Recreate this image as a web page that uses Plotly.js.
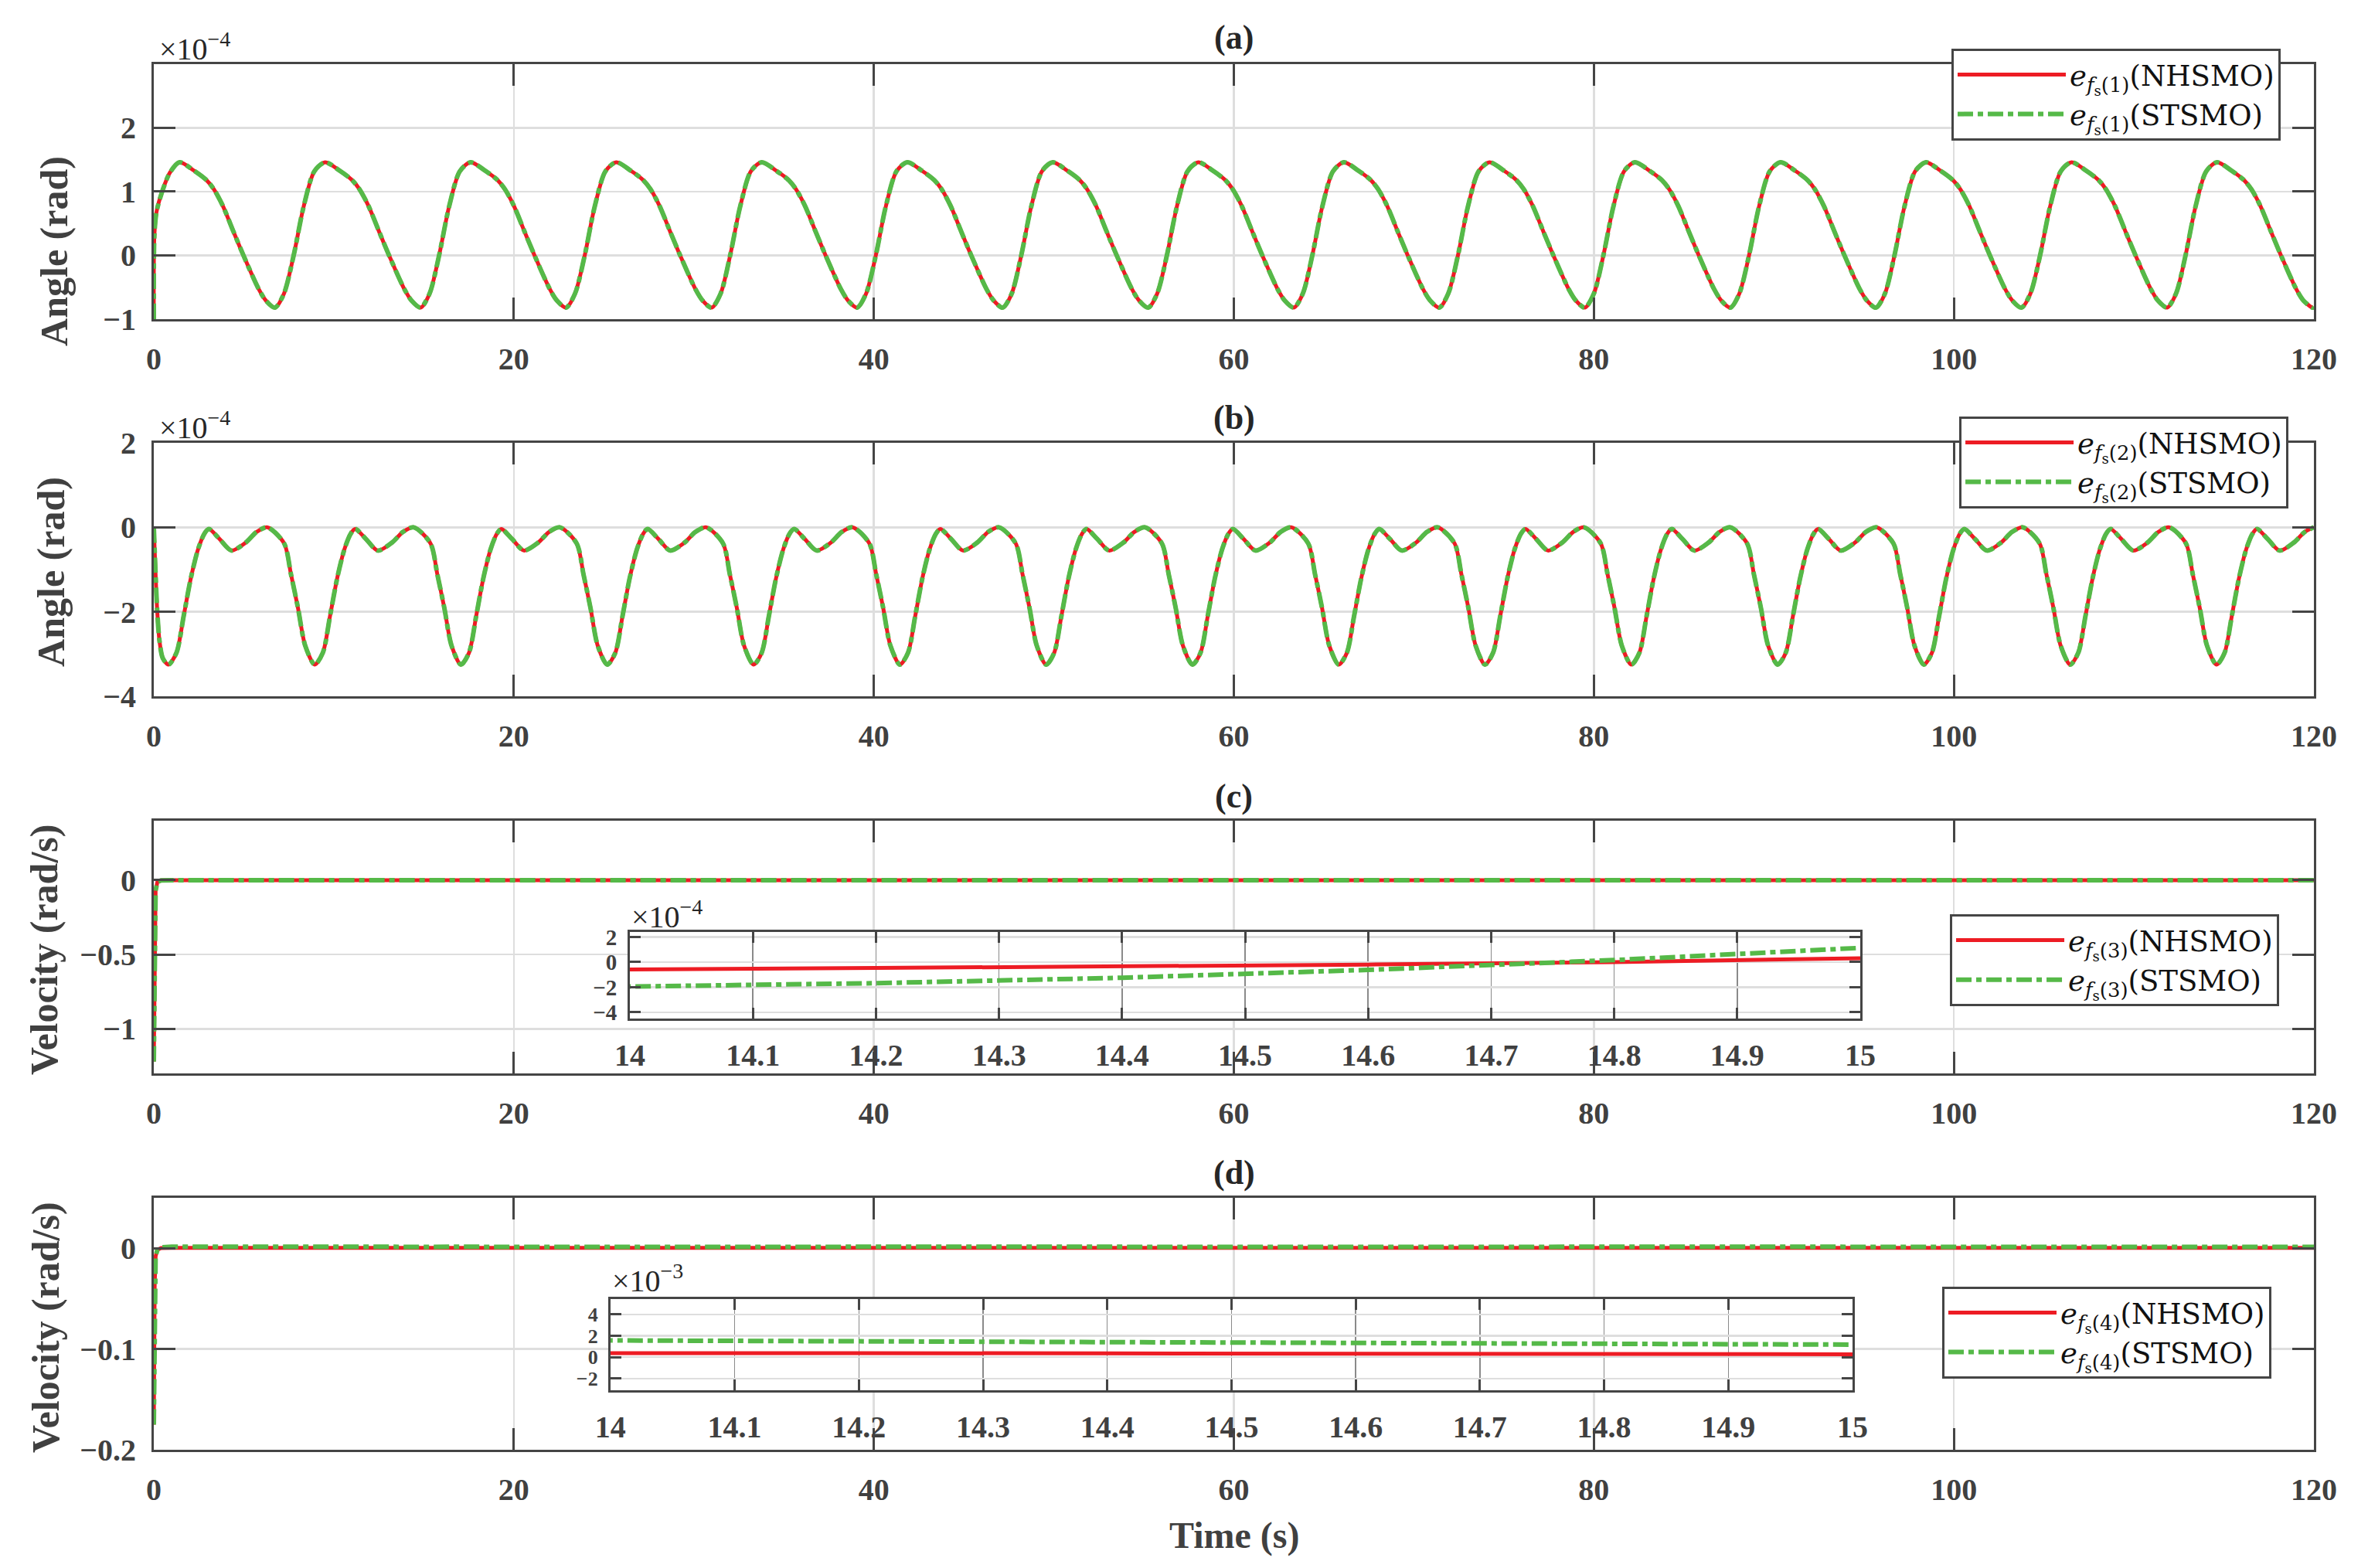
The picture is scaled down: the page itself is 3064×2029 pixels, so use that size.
<!DOCTYPE html>
<html>
<head>
<meta charset="utf-8">
<script src="https://cdn.plot.ly/plotly-3.0.1.min.js"></script>
<style>html,body{margin:0;padding:0;background:#fff;}#chart{width:3064px;height:2029px;}</style>
</head>
<body>
<div id="chart"></div>
<script>
// ---------------- DATA ----------------
// Panel (a): e_fs(1), angle, in units of 1e-4 rad
const timeA = [0, 0.03, 0.15, 0.5, 0.9,
 1.43, 2.23, 2.93, 3.33, 3.83, 4.43, 4.98, 5.83, 6.23, 6.73, 7.23,
 7.77, 8.32, 8.92, 9.52, 10.32, 11.02, 11.42, 11.92, 12.52, 13.07, 13.92, 14.32, 14.82, 15.32,
 15.85, 16.40, 17.00, 17.60, 18.40, 19.10, 19.50, 20.00, 20.60, 21.15, 22.00, 22.40, 22.90, 23.40,
 23.94, 24.49, 25.09, 25.69, 26.49, 27.19, 27.59, 28.09, 28.69, 29.24, 30.09, 30.49, 30.99, 31.49,
 32.02, 32.57, 33.17, 33.77, 34.57, 35.27, 35.67, 36.17, 36.77, 37.32, 38.17, 38.57, 39.07, 39.57,
 40.11, 40.66, 41.26, 41.86, 42.66, 43.36, 43.76, 44.26, 44.86, 45.41, 46.26, 46.66, 47.16, 47.66,
 48.19, 48.74, 49.34, 49.94, 50.74, 51.44, 51.84, 52.34, 52.94, 53.49, 54.34, 54.74, 55.24, 55.74,
 56.28, 56.83, 57.43, 58.03, 58.83, 59.53, 59.93, 60.43, 61.03, 61.58, 62.43, 62.83, 63.33, 63.83,
 64.36, 64.91, 65.51, 66.11, 66.91, 67.61, 68.01, 68.51, 69.11, 69.66, 70.51, 70.91, 71.41, 71.91,
 72.45, 73.00, 73.60, 74.20, 75.00, 75.70, 76.10, 76.60, 77.20, 77.75, 78.60, 79.00, 79.50, 80.00,
 80.53, 81.08, 81.68, 82.28, 83.08, 83.78, 84.18, 84.68, 85.28, 85.83, 86.68, 87.08, 87.58, 88.08,
 88.62, 89.17, 89.77, 90.37, 91.17, 91.87, 92.27, 92.77, 93.37, 93.92, 94.77, 95.17, 95.67, 96.17,
 96.70, 97.25, 97.85, 98.45, 99.25, 99.95, 100.35, 100.85, 101.45, 102.00, 102.85, 103.25, 103.75, 104.25,
 104.79, 105.34, 105.94, 106.54, 107.34, 108.04, 108.44, 108.94, 109.54, 110.09, 110.94, 111.34, 111.84, 112.34,
 112.87, 113.42, 114.02, 114.62, 115.42, 116.12, 116.52, 117.02, 117.62, 118.17, 119.02, 119.42, 119.92, 120.0];
const angle1NHSMO = [-1.0, 0.3, 0.68, 1.03, 1.3,
 1.46, 1.33, 1.18, 1.04, 0.78, 0.37, 0, -0.53, -0.71, -0.82, -0.6,
 0, 0.76, 1.32, 1.46, 1.33, 1.18, 1.04, 0.78, 0.37, 0, -0.53, -0.71, -0.82, -0.6,
 0, 0.76, 1.32, 1.46, 1.33, 1.18, 1.04, 0.78, 0.37, 0, -0.53, -0.71, -0.82, -0.6,
 0, 0.76, 1.32, 1.46, 1.33, 1.18, 1.04, 0.78, 0.37, 0, -0.53, -0.71, -0.82, -0.6,
 0, 0.76, 1.32, 1.46, 1.33, 1.18, 1.04, 0.78, 0.37, 0, -0.53, -0.71, -0.82, -0.6,
 0, 0.76, 1.32, 1.46, 1.33, 1.18, 1.04, 0.78, 0.37, 0, -0.53, -0.71, -0.82, -0.6,
 0, 0.76, 1.32, 1.46, 1.33, 1.18, 1.04, 0.78, 0.37, 0, -0.53, -0.71, -0.82, -0.6,
 0, 0.76, 1.32, 1.46, 1.33, 1.18, 1.04, 0.78, 0.37, 0, -0.53, -0.71, -0.82, -0.6,
 0, 0.76, 1.32, 1.46, 1.33, 1.18, 1.04, 0.78, 0.37, 0, -0.53, -0.71, -0.82, -0.6,
 0, 0.76, 1.32, 1.46, 1.33, 1.18, 1.04, 0.78, 0.37, 0, -0.53, -0.71, -0.82, -0.6,
 0, 0.76, 1.32, 1.46, 1.33, 1.18, 1.04, 0.78, 0.37, 0, -0.53, -0.71, -0.82, -0.6,
 0, 0.76, 1.32, 1.46, 1.33, 1.18, 1.04, 0.78, 0.37, 0, -0.53, -0.71, -0.82, -0.6,
 0, 0.76, 1.32, 1.46, 1.33, 1.18, 1.04, 0.78, 0.37, 0, -0.53, -0.71, -0.82, -0.6,
 0, 0.76, 1.32, 1.46, 1.33, 1.18, 1.04, 0.78, 0.37, 0, -0.53, -0.71, -0.82, -0.6,
 0, 0.76, 1.32, 1.46, 1.33, 1.18, 1.04, 0.78, 0.37, 0, -0.53, -0.71, -0.82, -0.81];
const angle1STSMO = [-1.0, 0.3, 0.68, 1.03, 1.3,
 1.46, 1.33, 1.18, 1.04, 0.78, 0.37, 0, -0.53, -0.71, -0.82, -0.6,
 0, 0.76, 1.32, 1.46, 1.33, 1.18, 1.04, 0.78, 0.37, 0, -0.53, -0.71, -0.82, -0.6,
 0, 0.76, 1.32, 1.46, 1.33, 1.18, 1.04, 0.78, 0.37, 0, -0.53, -0.71, -0.82, -0.6,
 0, 0.76, 1.32, 1.46, 1.33, 1.18, 1.04, 0.78, 0.37, 0, -0.53, -0.71, -0.82, -0.6,
 0, 0.76, 1.32, 1.46, 1.33, 1.18, 1.04, 0.78, 0.37, 0, -0.53, -0.71, -0.82, -0.6,
 0, 0.76, 1.32, 1.46, 1.33, 1.18, 1.04, 0.78, 0.37, 0, -0.53, -0.71, -0.82, -0.6,
 0, 0.76, 1.32, 1.46, 1.33, 1.18, 1.04, 0.78, 0.37, 0, -0.53, -0.71, -0.82, -0.6,
 0, 0.76, 1.32, 1.46, 1.33, 1.18, 1.04, 0.78, 0.37, 0, -0.53, -0.71, -0.82, -0.6,
 0, 0.76, 1.32, 1.46, 1.33, 1.18, 1.04, 0.78, 0.37, 0, -0.53, -0.71, -0.82, -0.6,
 0, 0.76, 1.32, 1.46, 1.33, 1.18, 1.04, 0.78, 0.37, 0, -0.53, -0.71, -0.82, -0.6,
 0, 0.76, 1.32, 1.46, 1.33, 1.18, 1.04, 0.78, 0.37, 0, -0.53, -0.71, -0.82, -0.6,
 0, 0.76, 1.32, 1.46, 1.33, 1.18, 1.04, 0.78, 0.37, 0, -0.53, -0.71, -0.82, -0.6,
 0, 0.76, 1.32, 1.46, 1.33, 1.18, 1.04, 0.78, 0.37, 0, -0.53, -0.71, -0.82, -0.6,
 0, 0.76, 1.32, 1.46, 1.33, 1.18, 1.04, 0.78, 0.37, 0, -0.53, -0.71, -0.82, -0.6,
 0, 0.76, 1.32, 1.46, 1.33, 1.18, 1.04, 0.78, 0.37, 0, -0.53, -0.71, -0.82, -0.81];

// Panel (b): e_fs(2), angle, in units of 1e-4 rad
const timeB = [0, 0.08, 0.18, 0.32, 0.5,
 0.81, 1.26, 1.66, 2.06, 2.46, 2.81, 3.06, 3.66, 4.31, 5.11, 5.71, 6.31, 7.24, 7.62, 8.01, 8.41,
 8.94, 9.39, 9.79, 10.19, 10.59, 10.94, 11.19, 11.79, 12.44, 13.24, 13.84, 14.44, 15.37, 15.75, 16.14, 16.54,
 17.06, 17.51, 17.91, 18.31, 18.71, 19.06, 19.31, 19.91, 20.56, 21.36, 21.96, 22.56, 23.49, 23.87, 24.26, 24.66,
 25.19, 25.64, 26.04, 26.44, 26.84, 27.19, 27.44, 28.04, 28.69, 29.49, 30.09, 30.69, 31.62, 32.00, 32.39, 32.79,
 33.32, 33.77, 34.17, 34.57, 34.97, 35.32, 35.57, 36.17, 36.82, 37.62, 38.22, 38.82, 39.75, 40.13, 40.52, 40.92,
 41.45, 41.90, 42.30, 42.70, 43.10, 43.45, 43.70, 44.30, 44.95, 45.75, 46.35, 46.95, 47.88, 48.26, 48.65, 49.05,
 49.57, 50.02, 50.42, 50.82, 51.22, 51.57, 51.82, 52.42, 53.07, 53.87, 54.47, 55.07, 56.00, 56.38, 56.77, 57.17,
 57.70, 58.15, 58.55, 58.95, 59.35, 59.70, 59.95, 60.55, 61.20, 62.00, 62.60, 63.20, 64.13, 64.51, 64.90, 65.30,
 65.83, 66.28, 66.68, 67.08, 67.48, 67.83, 68.08, 68.68, 69.33, 70.13, 70.73, 71.33, 72.26, 72.64, 73.03, 73.43,
 73.95, 74.40, 74.80, 75.20, 75.60, 75.95, 76.20, 76.80, 77.45, 78.25, 78.85, 79.45, 80.38, 80.76, 81.15, 81.55,
 82.08, 82.53, 82.93, 83.33, 83.73, 84.08, 84.33, 84.93, 85.58, 86.38, 86.98, 87.58, 88.51, 88.89, 89.28, 89.68,
 90.21, 90.66, 91.06, 91.46, 91.86, 92.21, 92.46, 93.06, 93.71, 94.51, 95.11, 95.71, 96.64, 97.02, 97.41, 97.81,
 98.33, 98.78, 99.18, 99.58, 99.98, 100.33, 100.58, 101.18, 101.83, 102.63, 103.23, 103.83, 104.76, 105.14, 105.53, 105.93,
 106.46, 106.91, 107.31, 107.71, 108.11, 108.46, 108.71, 109.31, 109.96, 110.76, 111.36, 111.96, 112.89, 113.27, 113.66, 114.06,
 114.59, 115.04, 115.44, 115.84, 116.24, 116.59, 116.84, 117.44, 118.09, 118.89, 119.49, 120.0];
const angle2NHSMO = [0, -0.9, -1.9, -2.7, -3.1,
 -3.25, -2.97, -2.1, -1.2, -0.52, -0.15, -0.04, -0.28, -0.55, -0.36, -0.11, 0.0, -0.38, -1.11, -1.91, -2.8,
 -3.25, -2.97, -2.1, -1.2, -0.52, -0.15, -0.04, -0.28, -0.55, -0.36, -0.11, 0.0, -0.38, -1.11, -1.91, -2.8,
 -3.25, -2.97, -2.1, -1.2, -0.52, -0.15, -0.04, -0.28, -0.55, -0.36, -0.11, 0.0, -0.38, -1.11, -1.91, -2.8,
 -3.25, -2.97, -2.1, -1.2, -0.52, -0.15, -0.04, -0.28, -0.55, -0.36, -0.11, 0.0, -0.38, -1.11, -1.91, -2.8,
 -3.25, -2.97, -2.1, -1.2, -0.52, -0.15, -0.04, -0.28, -0.55, -0.36, -0.11, 0.0, -0.38, -1.11, -1.91, -2.8,
 -3.25, -2.97, -2.1, -1.2, -0.52, -0.15, -0.04, -0.28, -0.55, -0.36, -0.11, 0.0, -0.38, -1.11, -1.91, -2.8,
 -3.25, -2.97, -2.1, -1.2, -0.52, -0.15, -0.04, -0.28, -0.55, -0.36, -0.11, 0.0, -0.38, -1.11, -1.91, -2.8,
 -3.25, -2.97, -2.1, -1.2, -0.52, -0.15, -0.04, -0.28, -0.55, -0.36, -0.11, 0.0, -0.38, -1.11, -1.91, -2.8,
 -3.25, -2.97, -2.1, -1.2, -0.52, -0.15, -0.04, -0.28, -0.55, -0.36, -0.11, 0.0, -0.38, -1.11, -1.91, -2.8,
 -3.25, -2.97, -2.1, -1.2, -0.52, -0.15, -0.04, -0.28, -0.55, -0.36, -0.11, 0.0, -0.38, -1.11, -1.91, -2.8,
 -3.25, -2.97, -2.1, -1.2, -0.52, -0.15, -0.04, -0.28, -0.55, -0.36, -0.11, 0.0, -0.38, -1.11, -1.91, -2.8,
 -3.25, -2.97, -2.1, -1.2, -0.52, -0.15, -0.04, -0.28, -0.55, -0.36, -0.11, 0.0, -0.38, -1.11, -1.91, -2.8,
 -3.25, -2.97, -2.1, -1.2, -0.52, -0.15, -0.04, -0.28, -0.55, -0.36, -0.11, 0.0, -0.38, -1.11, -1.91, -2.8,
 -3.25, -2.97, -2.1, -1.2, -0.52, -0.15, -0.04, -0.28, -0.55, -0.36, -0.11, 0.0, -0.38, -1.11, -1.91, -2.8,
 -3.25, -2.97, -2.1, -1.2, -0.52, -0.15, -0.04, -0.28, -0.55, -0.36, -0.11, 0.0];
const angle2STSMO = [0, -0.9, -1.9, -2.7, -3.1,
 -3.25, -2.97, -2.1, -1.2, -0.52, -0.15, -0.04, -0.28, -0.55, -0.36, -0.11, 0.0, -0.38, -1.11, -1.91, -2.8,
 -3.25, -2.97, -2.1, -1.2, -0.52, -0.15, -0.04, -0.28, -0.55, -0.36, -0.11, 0.0, -0.38, -1.11, -1.91, -2.8,
 -3.25, -2.97, -2.1, -1.2, -0.52, -0.15, -0.04, -0.28, -0.55, -0.36, -0.11, 0.0, -0.38, -1.11, -1.91, -2.8,
 -3.25, -2.97, -2.1, -1.2, -0.52, -0.15, -0.04, -0.28, -0.55, -0.36, -0.11, 0.0, -0.38, -1.11, -1.91, -2.8,
 -3.25, -2.97, -2.1, -1.2, -0.52, -0.15, -0.04, -0.28, -0.55, -0.36, -0.11, 0.0, -0.38, -1.11, -1.91, -2.8,
 -3.25, -2.97, -2.1, -1.2, -0.52, -0.15, -0.04, -0.28, -0.55, -0.36, -0.11, 0.0, -0.38, -1.11, -1.91, -2.8,
 -3.25, -2.97, -2.1, -1.2, -0.52, -0.15, -0.04, -0.28, -0.55, -0.36, -0.11, 0.0, -0.38, -1.11, -1.91, -2.8,
 -3.25, -2.97, -2.1, -1.2, -0.52, -0.15, -0.04, -0.28, -0.55, -0.36, -0.11, 0.0, -0.38, -1.11, -1.91, -2.8,
 -3.25, -2.97, -2.1, -1.2, -0.52, -0.15, -0.04, -0.28, -0.55, -0.36, -0.11, 0.0, -0.38, -1.11, -1.91, -2.8,
 -3.25, -2.97, -2.1, -1.2, -0.52, -0.15, -0.04, -0.28, -0.55, -0.36, -0.11, 0.0, -0.38, -1.11, -1.91, -2.8,
 -3.25, -2.97, -2.1, -1.2, -0.52, -0.15, -0.04, -0.28, -0.55, -0.36, -0.11, 0.0, -0.38, -1.11, -1.91, -2.8,
 -3.25, -2.97, -2.1, -1.2, -0.52, -0.15, -0.04, -0.28, -0.55, -0.36, -0.11, 0.0, -0.38, -1.11, -1.91, -2.8,
 -3.25, -2.97, -2.1, -1.2, -0.52, -0.15, -0.04, -0.28, -0.55, -0.36, -0.11, 0.0, -0.38, -1.11, -1.91, -2.8,
 -3.25, -2.97, -2.1, -1.2, -0.52, -0.15, -0.04, -0.28, -0.55, -0.36, -0.11, 0.0, -0.38, -1.11, -1.91, -2.8,
 -3.25, -2.97, -2.1, -1.2, -0.52, -0.15, -0.04, -0.28, -0.55, -0.36, -0.11, 0.0];

// Panel (c): e_fs(3), velocity, rad/s
const timeC = [0, 0.02, 0.05, 0.1, 0.2, 0.4, 1, 4, 8, 12, 14, 14.2, 14.4, 14.6, 14.8, 15, 17, 20, 30, 40, 50, 60, 70, 80, 90, 100, 110, 120];
const vel3NHSMO = [-1.22, -0.72, -0.28, -0.07, -0.012, -0.002, -0.0001, 0.00008, -0.00012, 0.0001,
 -0.000059, -0.000047, -0.000036, -0.00002, 0.0, 0.000031,
 0.00009, -0.0001, 0.00011, -0.00009, 0.0001, -0.0001, 0.00009, -0.0001, 0.0001, -0.00009, 0.0001, -0.0001];
const vel3STSMO = [-1.22, -0.72, -0.28, -0.07, -0.012, -0.002, 0.0002, -0.0002, 0.00025, -0.00022,
 -0.000195, -0.000168, -0.000125, -0.000062, 0.000016, 0.000113,
 0.0002, -0.0002, 0.00022, -0.0002, 0.0002, -0.00022, 0.0002, -0.0002, 0.00022, -0.0002, 0.0002, -0.0002];

// Panel (d): e_fs(4), velocity, rad/s
const timeD = [0, 0.02, 0.05, 0.1, 0.2, 0.4, 1, 4, 8, 12, 14, 14.2, 14.4, 14.6, 14.8, 15, 17, 20, 30, 40, 50, 60, 70, 80, 90, 100, 110, 120];
const vel4NHSMO = [-0.175, -0.1, -0.035, -0.008, -0.0015, 0.0001, 0.0004, 0.0004, 0.00042, 0.0004,
 0.00041, 0.00038, 0.00036, 0.00033, 0.0003, 0.00027,
 0.0003, 0.0003, 0.00031, 0.0003, 0.0003, 0.00031, 0.0003, 0.0003, 0.00031, 0.0003, 0.0003, 0.0003];
const vel4STSMO = [-0.175, -0.1, -0.035, -0.008, -0.0015, 0.0008, 0.0016, 0.0018, 0.0014, 0.0017,
 0.00157, 0.00149, 0.00141, 0.00133, 0.00125, 0.00118,
 0.0015, 0.0013, 0.0016, 0.0012, 0.0015, 0.0013, 0.0016, 0.0012, 0.0015, 0.0013, 0.0016, 0.0013];

// Tick labels
const mainTimeTicks = [0, 20, 40, 60, 80, 100, 120];
const insetTimeTicks = [14, 14.1, 14.2, 14.3, 14.4, 14.5, 14.6, 14.7, 14.8, 14.9, 15];
const insetTimeLabels = ['14', '14.1', '14.2', '14.3', '14.4', '14.5', '14.6', '14.7', '14.8', '14.9', '15'];
const panelTitles = ['(a)', '(b)', '(c)', '(d)'];
const seriesNames = ['NHSMO', 'STSMO'];

// ---------------- STYLE ----------------
const FONT = 'Liberation Serif, Times New Roman, serif';
const LEGFONT = 'DejaVu Serif, Liberation Serif, serif';
const AX = '#454545';
const RED = '#ED1C24';
const GREEN = '#55B948';
const DASH = '20px,6px,7px,6px';

function legendName(idx, name) {
  return '<i>e</i><sub><i>f</i><sub>s</sub>(' + idx + ')</sub>(' + name + ')';
}

function mkTraces(x, yR, yG, xa, ya, idx, legendId, showleg, shape) {
  return [
    {x: x, y: yR, xaxis: xa, yaxis: ya, type: 'scatter', mode: 'lines',
     name: legendName(idx, seriesNames[0]), legend: legendId, showlegend: showleg,
     line: {color: RED, width: 5, shape: shape, smoothing: 0.8}},
    {x: x, y: yG, xaxis: xa, yaxis: ya, type: 'scatter', mode: 'lines',
     name: legendName(idx, seriesNames[1]), legend: legendId, showlegend: showleg,
     line: {color: GREEN, width: 6, dash: DASH, shape: shape, smoothing: 0.8}}
  ];
}

const traces = [].concat(
  mkTraces(timeA, angle1NHSMO, angle1STSMO, 'x', 'y', 1, 'legend', true, 'spline'),
  mkTraces(timeB, angle2NHSMO, angle2STSMO, 'x2', 'y2', 2, 'legend2', true, 'spline'),
  mkTraces(timeC, vel3NHSMO, vel3STSMO, 'x3', 'y3', 3, 'legend3', true, 'linear'),
  mkTraces(timeD, vel4NHSMO, vel4STSMO, 'x4', 'y4', 4, 'legend4', true, 'linear'),
  mkTraces(timeC, vel3NHSMO, vel3STSMO, 'x5', 'y5', 3, 'legend3', false, 'linear'),
  mkTraces(timeD, vel4NHSMO, vel4STSMO, 'x6', 'y6', 4, 'legend4', false, 'linear')
);

const tickFont = {family: FONT, size: 40, color: '#404040', weight: 'bold'};
function mainX(anchor) {
  return {anchor: anchor, domain: [0, 1], range: [0, 120], tickvals: mainTimeTicks,
    ticktext: mainTimeTicks.map(String),
    showline: true, linecolor: AX, linewidth: 3, mirror: 'ticks',
    ticks: 'inside', ticklen: 28, tickwidth: 3, tickcolor: AX,
    showgrid: true, gridcolor: '#dedede', gridwidth: 2.5, zeroline: false,
    tickfont: tickFont, ticklabelstandoff: 14};
}
function mainY(anchor, dom, range, vals, txt) {
  return {anchor: anchor, domain: dom, range: range, tickvals: vals, ticktext: txt,
    showline: true, linecolor: AX, linewidth: 3, mirror: 'ticks',
    ticks: 'inside', ticklen: 28, tickwidth: 3, tickcolor: AX,
    showgrid: true, gridcolor: '#dedede', gridwidth: 2.5, zeroline: false,
    tickfont: tickFont, ticklabelstandoff: 12};
}
function insetX(anchor, dom) {
  return {anchor: anchor, domain: dom, range: [14, 15], tickvals: insetTimeTicks, ticktext: insetTimeLabels,
    showline: true, linecolor: AX, linewidth: 3, mirror: 'ticks',
    ticks: 'inside', ticklen: 14, tickwidth: 3, tickcolor: AX,
    showgrid: true, gridcolor: '#8a8a8a', gridwidth: 1.5, zeroline: false,
    tickfont: tickFont, ticklabelstandoff: 10};
}
function insetY(anchor, dom, range, vals, txt, fs) {
  return {anchor: anchor, domain: dom, range: range, tickvals: vals, ticktext: txt,
    showline: true, linecolor: AX, linewidth: 3, mirror: 'ticks',
    ticks: 'inside', ticklen: 14, tickwidth: 3, tickcolor: AX,
    showgrid: true, gridcolor: '#dedede', gridwidth: 2.5, zeroline: false,
    tickfont: {family: FONT, size: fs, color: '#404040', weight: 'bold'}, ticklabelstandoff: 8};
}
function legendBox(x, y) {
  return {x: x, y: y, xanchor: 'left', yanchor: 'top', bgcolor: '#ffffff',
    bordercolor: AX, borderwidth: 3, itemwidth: 140, tracegroupgap: 0,
    font: {family: LEGFONT, size: 37, color: '#111111'}};
}

const annFont = (s, w, c) => ({family: FONT, size: s, color: c || '#404040', weight: w || 'normal'});
const annotations = [];
const titleY = [1.019, 0.7446, 0.4718, 0.1997];
panelTitles.forEach((t, i) => annotations.push({text: t, xref: 'paper', yref: 'paper', x: 0.5, y: titleY[i],
  xanchor: 'center', yanchor: 'middle', showarrow: false, font: annFont(44, 'bold', '#262626')}));
// exponent labels
[[0.0018, 1.0128, '−4'], [0.0018, 0.7395, '−4'], [0.2204, 0.3865, '−4'], [0.2114, 0.1233, '−3']].forEach(p =>
  annotations.push({text: '×10<sup>' + p[2] + '</sup>', xref: 'paper', yref: 'paper', x: p[0], y: p[1],
    xanchor: 'left', yanchor: 'middle', showarrow: false, font: annFont(40, 'normal', '#262626')}));
// axis titles
[['Angle (rad)', -0.0462, 0.865], ['Angle (rad)', -0.0476, 0.6336],
 ['Velocity (rad/s)', -0.0508, 0.3608], ['Velocity (rad/s)', -0.0501, 0.0887]].forEach(p =>
  annotations.push({text: p[0], xref: 'paper', yref: 'paper', x: p[1], y: p[2], textangle: -90,
    xanchor: 'center', yanchor: 'middle', showarrow: false, font: annFont(50, 'bold')}));
annotations.push({text: 'Time (s)', xref: 'paper', yref: 'paper', x: 0.5, y: -0.0619,
  xanchor: 'center', yanchor: 'middle', showarrow: false, font: annFont(48, 'bold')});

const layout = {
  width: 3064, height: 2029,
  margin: {l: 199, r: 70, t: 83, b: 153},
  paper_bgcolor: '#ffffff', plot_bgcolor: '#ffffff',
  font: {family: FONT, color: '#404040'},
  xaxis: mainX('y'), xaxis2: mainX('y2'), xaxis3: mainX('y3'), xaxis4: mainX('y4'),
  yaxis: mainY('x', [0.8160, 1.0], [-1, 3], [-1, 0, 1, 2], ['−1', '0', '1', '2']),
  yaxis2: mainY('x2', [0.5438, 0.7267], [-4, 2], [-4, -2, 0, 2], ['−4', '−2', '0', '2']),
  yaxis3: mainY('x3', [0.2716, 0.4540], [-1.3, 0.4], [-1, -0.5, 0], ['−1', '−0.5', '0']),
  yaxis4: mainY('x4', [0.0, 0.1818], [-0.2, 0.05], [-0.2, -0.1, 0], ['−0.2', '−0.1', '0']),
  xaxis5: insetX('y5', [0.2204, 0.7900]),
  yaxis5: insetY('x5', [0.3112, 0.3737], [-4.5e-4, 2.4e-4], [-4e-4, -2e-4, 0, 2e-4], ['−4', '−2', '0', '2'], 29),
  xaxis6: insetX('y6', [0.2114, 0.7864]),
  yaxis6: insetY('x6', [0.0429, 0.1088], [-3.1e-3, 5.45e-3], [-2e-3, 0, 2e-3, 4e-3], ['−2', '0', '2', '4'], 26),
  legend: legendBox(0.8322, 1.0112),
  legend2: legendBox(0.8358, 0.7457),
  legend3: legendBox(0.8315, 0.3865),
  legend4: legendBox(0.8279, 0.1177),
  annotations: annotations,
  showlegend: true
};

Plotly.newPlot('chart', traces, layout, {staticPlot: true, displayModeBar: false});
</script>
</body>
</html>
